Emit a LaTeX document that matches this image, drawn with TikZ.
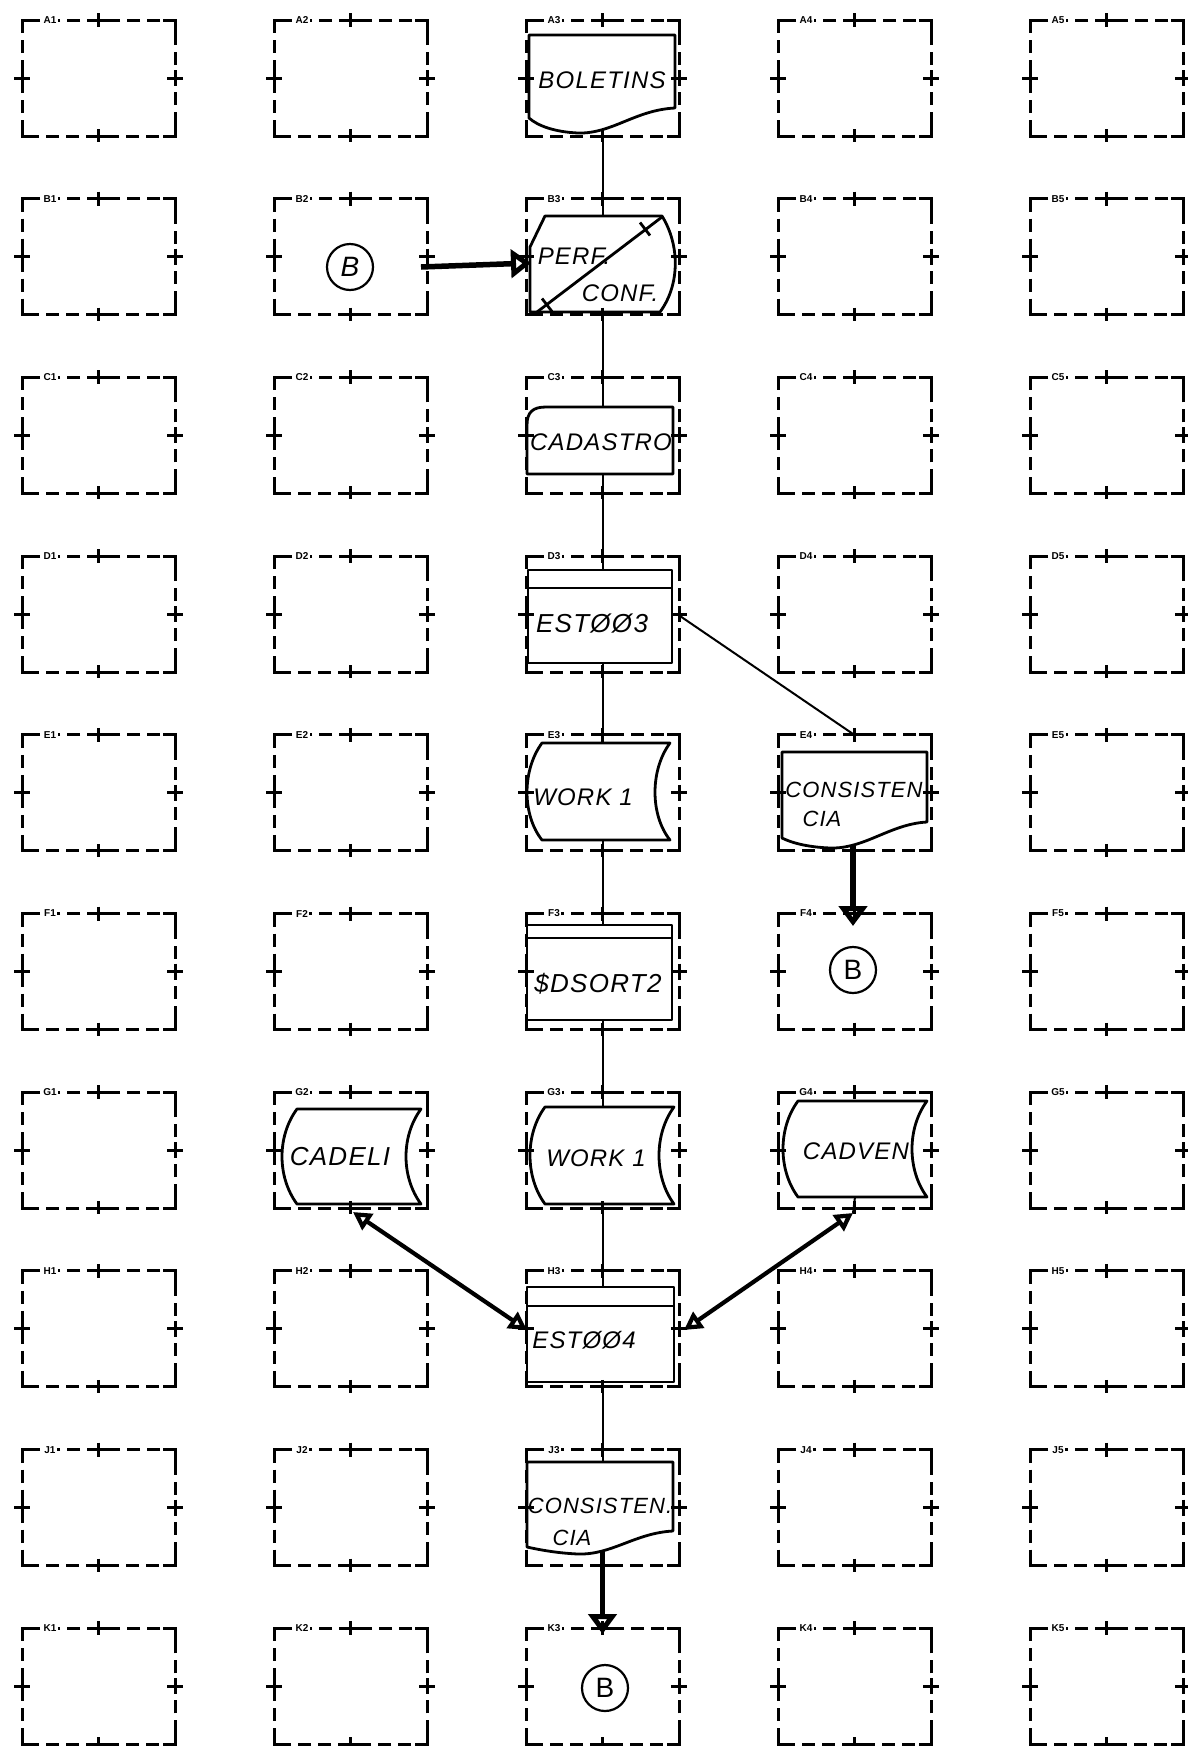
\documentclass[tikz,border=0pt]{standalone}
\usepackage{fontspec}
\newfontfamily\hand{Liberation Sans}[LetterSpace=5]
\newfontfamily\plainsans{Liberation Sans}
\usetikzlibrary{arrows.meta}
\newcommand\gbox[3]{%
  \draw[gridline] (#1,#2) rectangle ++(153,116);
  \draw[gridsolid] (#1,#2+12) -- (#1,#2) -- (#1+10,#2);
  \draw[gridsolid] (#1+141,#2) -- (#1+153,#2) -- (#1+153,#2+12);
  \draw[gridsolid] (#1,#2+104) -- (#1,#2+116) -- (#1+12,#2+116);
  \draw[gridsolid] (#1+141,#2+116) -- (#1+153,#2+116) -- (#1+153,#2+104);
  \draw[gridsolid] (#1+76.5,#2-7) -- (#1+76.5,#2+7) (#1+68,#2) -- (#1+85,#2);
  \draw[gridsolid] (#1+76.5,#2+109) -- (#1+76.5,#2+122) (#1+68,#2+116) -- (#1+85,#2+116);
  \draw[gridsolid] (#1-8,#2+58) -- (#1+8,#2+58) (#1,#2+50) -- (#1,#2+66);
  \draw[gridsolid] (#1+145,#2+58) -- (#1+161,#2+58) (#1+153,#2+50) -- (#1+153,#2+66);
  \node[lbl] (lbl#3) at (#1+28,#2) {#3};
}
\begin{document}
\begin{tikzpicture}[x=1pt,y=-1pt,
  gridline/.style={line width=3pt, dash pattern=on 13pt off 7pt},
  gridsolid/.style={line width=3pt},
  lbl/.style={fill=white, inner sep=1.5pt, font=\plainsans\bfseries\fontsize{10}{10}\selectfont},
  fshape/.style={line width=2.8pt, line join=round},
  flow/.style={line width=2pt},
  bigarrow/.style={line width=5.5pt, -{Triangle[open,length=20pt,width=28pt]}},
  dblarrow/.style={line width=4.2pt, {Triangle[open,length=18pt,width=19pt]}-{Triangle[open,length=18pt,width=19pt]}},
  txt/.style={font=\fontsize{24}{26}\selectfont\hand\itshape, inner sep=0pt},
  txtsm/.style={font=\fontsize{22}{24}\selectfont\hand\itshape, inner sep=0pt},
  txtbig/.style={font=\fontsize{26}{28}\selectfont\hand\itshape, inner sep=0pt},
  conn/.style={circle, draw, line width=2.2pt, minimum size=46pt, inner sep=0pt, font=\plainsans\fontsize{28}{28}\selectfont}
]
\useasboundingbox (0,0) rectangle (1187,1746);
\fill[white] (0,0) rectangle (1187,1746);

% grid of dashed boxes
\foreach \r [count=\ri from 0] in {A,B,C,D,E,F,G,H,J,K}{
  \foreach \c [count=\ci from 0] in {1,2,3,4,5}{
    \pgfmathsetmacro\L{22+252*\ci}
    \pgfmathsetmacro\T{20+178.7*\ri}
    \gbox{\L}{\T}{\r\c}
  }
}

% ---- A3 BOLETINS (document)
\draw[fshape] (529,35) -- (675,35) -- (675,108) .. controls (635,110) and (612,134) .. (578,133) .. controls (555,132) and (538,126) .. (529,118) -- cycle;
\node[txt] (a3) at (602,80) {BOLETINS};

% ---- B3 PERF./CONF.
\draw[fshape] (545,216) -- (662,216) .. controls (680,245) and (680,285) .. (660,312) -- (530,312) -- (530,247) -- cycle;
\draw[fshape] (537,312) -- (662,217);
\draw[fshape] (640,222.5) -- (650,235.5);
\draw[fshape] (542,298.5) -- (552,311.5);
\node[txt] (b3p) at (574,256) {PERF.};
\node[txt] (b3c) at (620,293) {CONF.};

% ---- C3 CADASTRO (card)
\draw[fshape] (527,474) -- (527,425) .. controls (527,412) and (533,407) .. (546,407) -- (673,407) -- (673,474) -- cycle;
\node[txt] (c3) at (601,442) {CADASTRO};

% ---- D3 EST003
\draw[fshape] (528,570) rectangle (672,663);
\draw[fshape] (528,588) -- (672,588);
\node[txtbig] (d3) at (592,624) {ESTØØ3};

% ---- E3 WORK 1 (stored data)
\draw[fshape] (542,743) -- (670,743) .. controls (650,770) and (650,815) .. (670,840) -- (542,840) .. controls (522,815) and (522,770) .. (542,743) -- cycle;
\node[txt] (e3) at (583,797) {WORK 1};

% ---- E4 CONSISTENCIA (document)
\draw[fshape] (782,752) -- (927,752) -- (927,822) .. controls (890,824) and (865,849) .. (830,848) .. controls (805,847) and (790,842) .. (782,838) -- cycle;
\node[txtsm] (e4a) at (854,790) {CONSISTEN};
\node[txtsm] (e4b) at (822,819) {CIA};

% ---- F3 $DSORT2
\draw[fshape] (527,925) rectangle (672,1020);
\draw[fshape] (527,938) -- (672,938);
\node[txtbig] (f3) at (598,984) {\$DSORT2};

% ---- F4 connector B
\node[conn] (f4B) at (853,970) {B};

% ---- G2 CADELI
\draw[fshape] (297,1109) -- (421,1109) .. controls (401,1136) and (401,1177) .. (421,1204) -- (297,1204) .. controls (277,1177) and (277,1136) .. (297,1109) -- cycle;
\node[txtbig] (g2) at (340,1157) {CADELI};

% ---- G3 WORK 1
\draw[fshape] (545,1107) -- (674,1107) .. controls (654,1134) and (654,1177) .. (674,1204) -- (545,1204) .. controls (525,1177) and (525,1134) .. (545,1107) -- cycle;
\node[txt] (g3) at (596,1158) {WORK 1};

% ---- G4 CADVEN
\draw[fshape] (798,1101) -- (927,1101) .. controls (907,1128) and (907,1170) .. (927,1197) -- (798,1197) .. controls (778,1170) and (778,1128) .. (798,1101) -- cycle;
\node[txt] (g4) at (856,1151) {CADVEN};

% ---- H3 EST004
\draw[fshape] (527,1287) rectangle (674,1382);
\draw[fshape] (527,1306) -- (674,1306);
\node[txt] (h3) at (584,1340) {ESTØØ4};

% ---- J3 CONSISTENCIA (document)
\draw[fshape] (527,1462) -- (673,1462) -- (673,1531) .. controls (635,1533) and (612,1555) .. (578,1554) .. controls (555,1553) and (536,1549) .. (527,1547) -- cycle;
\node[txtsm] (j3a) at (600,1506) {CONSISTEN.};
\node[txtsm] (j3b) at (572,1538) {CIA};

% ---- connectors B
\node[conn, font=\plainsans\itshape\fontsize{28}{28}\selectfont] (b2B) at (350,267) {B};
\node[conn] (k3B) at (605,1688) {B};

% ---- connector coordinates
\coordinate (a3s) at (602.5,129);
\coordinate (b3n) at (602.5,216);
\coordinate (b3s) at (602.5,312);
\coordinate (c3n) at (602.5,407);
\coordinate (c3s) at (602.5,474);
\coordinate (d3n) at (602.5,570);
\coordinate (d3s) at (602.5,663);
\coordinate (d3e) at (680,616);
\coordinate (e4n) at (854.5,735);
\coordinate (e3n) at (602.5,743);
\coordinate (e3s) at (602.5,840);
\coordinate (f3n) at (602.5,925);
\coordinate (f3s) at (602.5,1020);
\coordinate (g3n) at (602.5,1107);
\coordinate (g3s) at (602.5,1204);
\coordinate (h3n) at (602.5,1287);
\coordinate (h3s) at (602.5,1382);
\coordinate (j3n) at (602.5,1462);
\coordinate (j3s) at (602.5,1550);
\coordinate (k3n) at (602.5,1634);
\coordinate (e4s) at (853,845);
\coordinate (f4n) at (853,926);
\coordinate (b2e) at (421,267);
\coordinate (b3w) at (531,263);
\coordinate (g2s) at (353,1212);
\coordinate (h3w) at (527,1330);
\coordinate (g4b) at (855,1197);
\coordinate (g4s) at (853,1213);
\coordinate (h3e) at (684,1330);

\draw[flow] (a3s) -- (b3n);
\draw[flow] (b3s) -- (c3n);
\draw[flow] (c3s) -- (d3n);
\draw[flow] (d3s) -- (e3n);
\draw[flow] (d3e) -- (e4n);
\draw[flow] (e3s) -- (f3n);
\draw[flow] (f3s) -- (g3n);
\draw[flow] (g3s) -- (h3n);
\draw[flow] (h3s) -- (j3n);
\draw[flow] (g4b) -- (g4s);

\draw[bigarrow] (b2e) -- (b3w);
\draw[bigarrow] (e4s) -- (f4n);
\draw[bigarrow] (j3s) -- (k3n);
\draw[dblarrow] (g2s) -- (h3w);
\draw[dblarrow] (g4s) -- (h3e);
\end{tikzpicture}
\end{document}
